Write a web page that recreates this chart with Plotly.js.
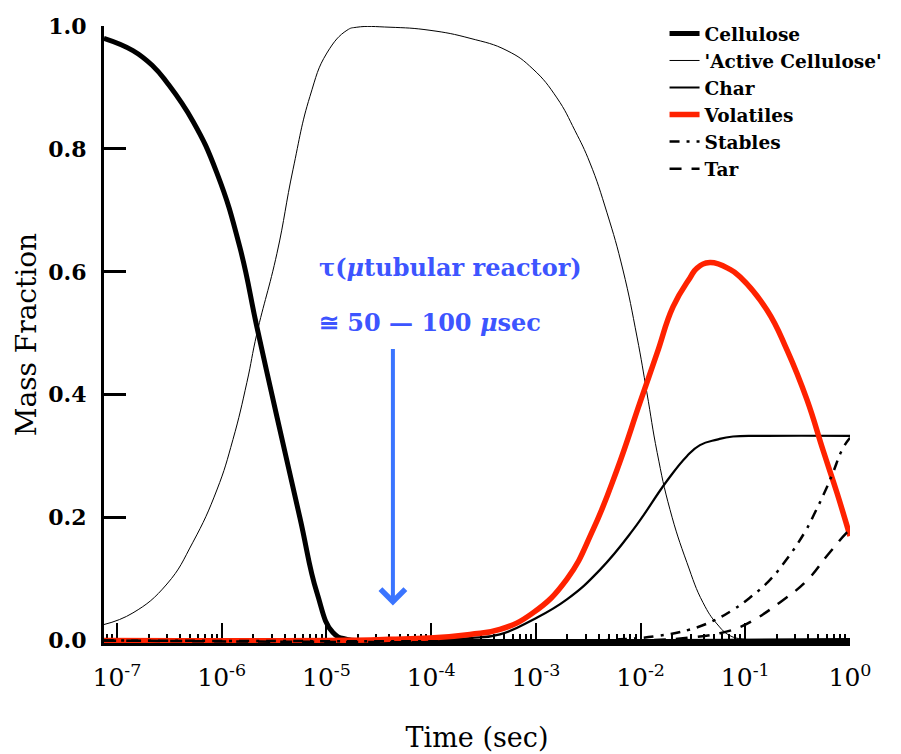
<!DOCTYPE html>
<html>
<head>
<meta charset="utf-8">
<script src="https://cdn.plot.ly/plotly-3.0.1.min.js"></script>
<style>html,body{margin:0;padding:0;background:#fff;}#chart{width:901px;height:754px;}</style>
</head>
<body>
<div id="chart"></div>
<script>
// Time (s) and mass fraction values
const celluloseT = [7.5e-8, 1.42e-7, 2.2e-7, 3.0e-7, 5.31e-7, 8.99e-7, 1.49e-6, 2.17e-6, 3.37e-6, 5.58e-6, 8.11e-6, 1.153e-5, 1.57e-5, 2.5e-5, 1];
const celluloseY = [0.98, 0.96, 0.935, 0.908, 0.845, 0.761, 0.64, 0.51, 0.364, 0.20, 0.078, 0.013, 0.002, 0, 0];

const activeT = [7.5e-8, 1.42e-7, 3.0e-7, 5.31e-7, 8.99e-7, 1.28e-6, 1.74e-6, 2.17e-6, 3.37e-6, 4.79e-6, 6.95e-6, 1.01e-5, 1.57e-5, 1.95e-5, 4.05e-5, 9.75e-5, 2.35e-4, 5.30e-4, 9.38e-4, 1.59e-3, 2.36e-3, 3.29e-3, 4.78e-3, 6.79e-3, 9.25e-3, 1.15e-2, 1.44e-2, 1.91e-2, 2.77e-2, 3.94e-2, 5.37e-2, 7.14e-2, 9.93e-2, 1.58e-1, 1];
const activeY = [0.026, 0.045, 0.092, 0.16, 0.245, 0.327, 0.42, 0.50, 0.63, 0.766, 0.885, 0.956, 0.993, 0.998, 0.998, 0.993, 0.98, 0.96, 0.93, 0.883, 0.83, 0.777, 0.696, 0.603, 0.494, 0.403, 0.306, 0.213, 0.127, 0.062, 0.027, 0.008, 0.002, 0, 0];

const charT = [7.5e-8, 2.51e-5, 1.0e-4, 2.35e-4, 4.54e-4, 9.38e-4, 1.98e-3, 4.09e-3, 8.47e-3, 1.79e-2, 2.77e-2, 3.69e-2, 5.37e-2, 7.64e-2, 1.58e-1, 1];
const charY = [0, 0, 0.001, 0.004, 0.010, 0.034, 0.067, 0.115, 0.180, 0.260, 0.300, 0.318, 0.327, 0.332, 0.333, 0.333];

const volT = [7.5e-8, 1.58e-5, 3.98e-5, 9.75e-5, 2.35e-4, 4.54e-4, 9.38e-4, 1.98e-3, 3.51e-3, 5.96e-3, 9.86e-3, 1.44e-2, 2.04e-2, 2.96e-2, 3.46e-2, 4.60e-2, 7.14e-2, 8.89e-2, 1.61e-1, 2.50e-1, 3.88e-1, 5.52e-1, 7.52e-1, 1];
const volY = [0, 0.0005, 0.002, 0.004, 0.010, 0.018, 0.045, 0.10, 0.18, 0.278, 0.387, 0.468, 0.543, 0.590, 0.606, 0.615, 0.604, 0.592, 0.538, 0.473, 0.392, 0.31, 0.24, 0.17];

const stablesT = [7.5e-8, 2.51e-3, 6.35e-3, 1.53e-2, 2.96e-2, 4.92e-2, 7.64e-2, 1.11e-1, 1.66e-1, 2.29e-1, 3.72e-1, 4.68e-1, 5.75e-1, 6.76e-1, 8.51e-1, 1];
const stablesY = [0, 0, 0.002, 0.008, 0.018, 0.032, 0.050, 0.070, 0.096, 0.124, 0.177, 0.21, 0.242, 0.27, 0.312, 0.33];

const tarT = [7.5e-8, 1.0e-2, 2.96e-2, 5.75e-2, 8.91e-2, 1.17e-1, 2.14e-1, 3.89e-1, 6.17e-1, 9.12e-1, 1];
const tarY = [0, 0, 0.005, 0.012, 0.022, 0.032, 0.062, 0.098, 0.140, 0.174, 0.18];

const seriesNames = ["Cellulose", "'Active Cellulose'", "Char", "Volatiles", "Stables", "Tar"];
const xTickVals = [1e-7, 1e-6, 1e-5, 1e-4, 1e-3, 1e-2, 1e-1, 1];
const xTickText = ["10<sup>-7</sup>", "10<sup>-6</sup>", "10<sup>-5</sup>", "10<sup>-4</sup>", "10<sup>-3</sup>", "10<sup>-2</sup>", "10<sup>-1</sup>", "10<sup>0</sup>"];
const yTickVals = [0, 0.2, 0.4, 0.6, 0.8, 1.0];

const serif = "DejaVu Serif, serif";
const sp = {shape: 'spline', smoothing: 1.3};

const traces = [
  {x: celluloseT, y: celluloseY, name: seriesNames[0], mode: 'lines', line: Object.assign({color: '#000', width: 5}, sp)},
  {x: activeT, y: activeY, name: seriesNames[1], mode: 'lines', line: Object.assign({color: '#000', width: 1}, sp)},
  {x: charT, y: charY, name: seriesNames[2], mode: 'lines', line: Object.assign({color: '#000', width: 2.2}, sp)},
  {x: volT, y: volY, name: seriesNames[3], mode: 'lines', line: Object.assign({color: '#ff2200', width: 5.5}, sp)},
  {x: stablesT, y: stablesY, name: seriesNames[4], mode: 'lines', line: Object.assign({color: '#000', width: 2.5, dash: '10px,7px,3px,7px'}, sp)},
  {x: tarT, y: tarY, name: seriesNames[5], mode: 'lines', line: Object.assign({color: '#000', width: 2.5, dash: '12px,10px'}, sp)}
];

const layout = {
  width: 901, height: 754,
  margin: {l: 104, r: 51, t: 26, b: 110.5},
  paper_bgcolor: '#fff', plot_bgcolor: '#fff',
  showlegend: true,
  legend: {
    x: 0.7514, y: 1.018, xanchor: 'left', yanchor: 'top',
    font: {family: serif, size: 18.5, weight: 700, color: '#000'},
    bgcolor: 'rgba(0,0,0,0)', tracegroupgap: 0
  },
  xaxis: {
    type: 'log', range: [-7.124, 0],
    tickvals: xTickVals, ticktext: xTickText,
    showline: true, linecolor: '#000', linewidth: 3,
    ticks: 'inside', ticklen: 20, tickwidth: 2, tickcolor: '#000',
    minor: {ticks: 'inside', ticklen: 9, tickwidth: 2, tickcolor: '#000', dtick: 'D1', showgrid: false},
    showgrid: false, zeroline: false, layer: 'below traces',
    tickfont: {family: serif, size: 25, color: '#000'},
    ticklabelstandoff: 10,
    title: {text: 'Time (sec)', font: {family: serif, size: 27, color: '#000'}, standoff: 38}
  },
  yaxis: {
    range: [-0.004, 1.0], tickvals: yTickVals, tickformat: '.1f',
    showline: true, linecolor: '#000', linewidth: 3,
    ticks: 'inside', ticklen: 22, tickwidth: 3, tickcolor: '#000',
    showgrid: false, zeroline: false, layer: 'below traces',
    tickfont: {family: serif, size: 22, weight: 700, color: '#000'},
    ticklabelstandoff: 10,
    title: {text: 'Mass Fraction', font: {family: serif, size: 28, color: '#000'}, standoff: 4}
  },
  annotations: [
    {xref: 'paper', yref: 'paper', x: 0.2855, y: 0.608, xanchor: 'left', yanchor: 'middle', showarrow: false,
     text: 'τ(<i>μ</i>tubular reactor)', font: {family: serif, size: 24, weight: 700, color: '#3d55ff'}},
    {xref: 'paper', yref: 'paper', x: 0.2855, y: 0.519, xanchor: 'left', yanchor: 'middle', showarrow: false,
     text: '≅ 50 — 100 <i>μ</i>sec', font: {family: serif, size: 24, weight: 700, color: '#3d55ff'}},
    {xref: 'x', yref: 'y', x: -4.365, y: 0.057, ax: 0, ay: -258, axref: 'pixel', ayref: 'pixel',
     showarrow: true, arrowhead: 4, arrowwidth: 4, arrowsize: 1.2, arrowcolor: '#3a74ff', text: '', standoff: 0}
  ]
};

Plotly.newPlot('chart', traces, layout, {staticPlot: true, displayModeBar: false});
</script>
</body>
</html>
